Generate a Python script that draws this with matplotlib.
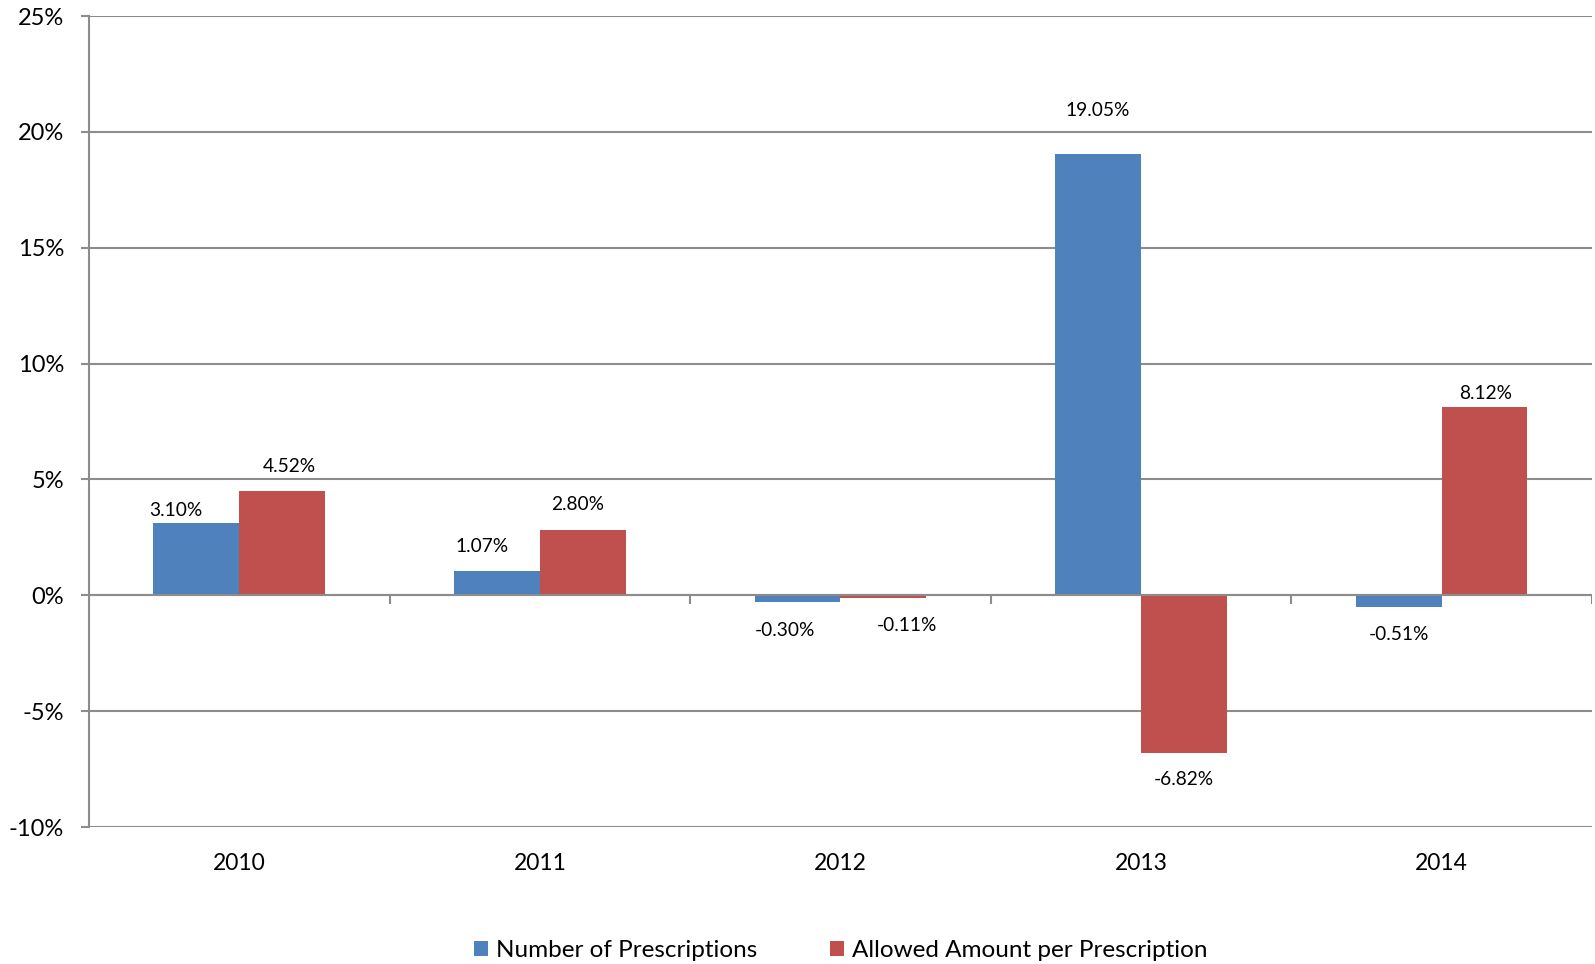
import matplotlib.pyplot as plt
import numpy as np

plt.rcParams['font.family'] = ['Lato', 'DejaVu Sans']

# Data
years = ['2010', '2011', '2012', '2013', '2014']
num_prescriptions = [3.10, 1.07, -0.30, 19.05, -0.51]
allowed_amount = [4.52, 2.80, -0.11, -6.82, 8.12]
series_names = ['Number of Prescriptions', 'Allowed Amount per Prescription']
colors = ['#4F81BD', '#C0504D']

# label offsets in points (dx, distance from bar end)
blue_offsets = [(-15, 9), (-11, 17), (-9, 20), (0, 31), (0, 20)]
red_offsets = [(5, 17), (-4, 19), (17, 20), (0, 19), (1, 10)]

fig = plt.figure(figsize=(15.95, 9.64), dpi=100)
ax = fig.add_axes([0.0558, 0.1421, 0.9422, 0.8413])

x = np.arange(len(years))
w = 1 / 3.5
grid_c = '#8c8c8c'

b1 = ax.bar(x - w / 2, num_prescriptions, w, color=colors[0], label=series_names[0], zorder=3)
b2 = ax.bar(x + w / 2, allowed_amount, w, color=colors[1], label=series_names[1], zorder=3)

ax.set_xlim(-0.5, len(years) - 0.5)
ax.set_ylim(-10, 25)
ax.set_yticks(range(-10, 26, 5))
ax.set_yticklabels([f'{v}%' for v in range(-10, 26, 5)])
ax.set_xticks(x)
ax.set_xticklabels(years)

ax.grid(axis='y', color=grid_c, linewidth=1.5, zorder=0)
ax.axhline(0, color=grid_c, linewidth=1.5, zorder=4)
# category separator ticks on the zero line
ax.vlines(np.arange(len(years) + 1) - 0.5, -0.37, 0, color=grid_c, linewidth=1.5, zorder=4)

for s in ['top', 'right', 'bottom']:
    ax.spines[s].set_visible(False)
ax.spines['left'].set_color(grid_c)
ax.spines['left'].set_linewidth(1.5)

ax.tick_params(axis='y', length=6, width=1.5, color=grid_c, pad=12, labelsize=17)
ax.tick_params(axis='x', length=0, pad=19, labelsize=16.5)

# data labels
for bars, vals, offs in [(b1, num_prescriptions, blue_offsets), (b2, allowed_amount, red_offsets)]:
    for rect, v, (dx, dy) in zip(bars, vals, offs):
        cx = rect.get_x() + rect.get_width() / 2
        sign = 1 if v >= 0 else -1
        ax.annotate(f'{v:.2f}%', (cx, v), xytext=(dx, sign * dy), textcoords='offset points',
                    ha='center', va='center', fontsize=13.8)

ax.legend(loc='center', bbox_to_anchor=(0.5, -0.1525), ncol=2, frameon=False, fontsize=17.5,
          handlelength=0.6, handleheight=0.6, handletextpad=0.3, columnspacing=3.0)

fig.savefig('out.png', dpi=100)
